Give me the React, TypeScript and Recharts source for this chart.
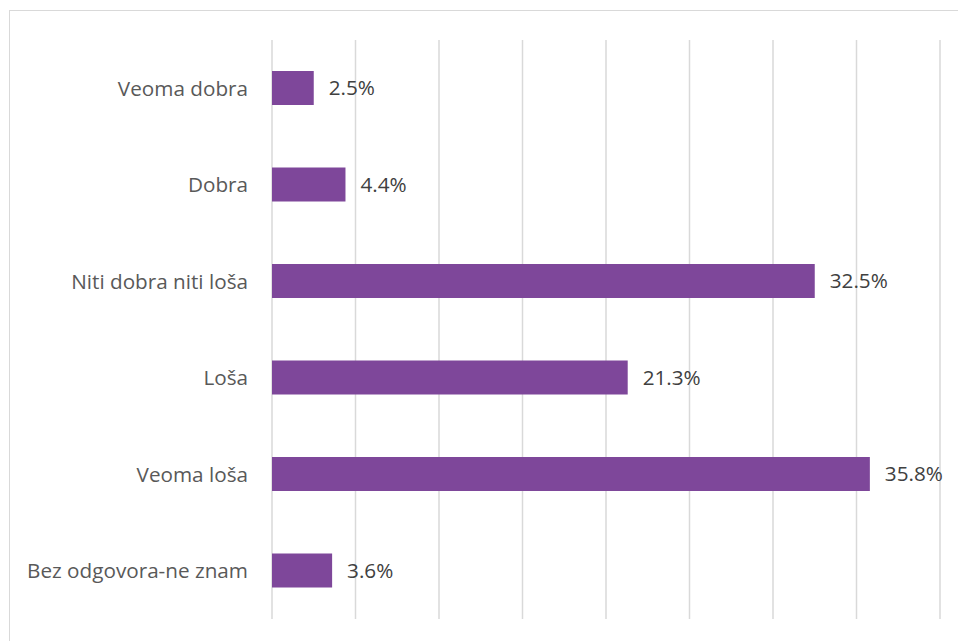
import React from 'react';
import { BarChart, Bar, XAxis, YAxis, CartesianGrid, LabelList } from 'recharts';

const categories = [
  'Veoma dobra',
  'Dobra',
  'Niti dobra niti loša',
  'Loša',
  'Veoma loša',
  'Bez odgovora-ne znam',
];
const values = [2.5, 4.4, 32.5, 21.3, 35.8, 3.6];
const xTicks = [0, 5, 10, 15, 20, 25, 30, 35, 40];

const data = categories.map((name, i) => ({ name, value: values[i] }));

const FONT = '"Open Sans", sans-serif';

export default function App() {
  return (
    <div style={{ position: 'absolute', left: 0, top: 0, width: 958, height: 641, background: '#fff', overflow: 'hidden' }}>
      <div
        style={{
          position: 'absolute',
          left: 9,
          top: 10,
          width: 960,
          height: 700,
          border: '1px solid #d9d9d9',
          boxSizing: 'border-box',
        }}
      />
      <div style={{ position: 'absolute', left: 0, top: 0 }}>
        <BarChart
          width={958}
          height={641}
          data={data}
          layout="vertical"
          margin={{ top: 40, right: 18, bottom: 22, left: 0 }}
          barSize={34}
        >
          <CartesianGrid horizontal={false} vertical={true} stroke="#d9d9d9" strokeWidth={1.5} />
          <XAxis type="number" domain={[0, 40]} ticks={xTicks} hide />
          <YAxis
            type="category"
            dataKey="name"
            width={272}
            axisLine={false}
            tickLine={false}
            tickSize={6}
            tickMargin={18}
            tick={{ fill: '#595959', fontSize: 20.7, fontFamily: FONT }}
          />
          <Bar dataKey="value" fill="#7E479A" isAnimationActive={false}>
            <LabelList
              dataKey="value"
              position="right"
              offset={15}
              formatter={(v: number) => `${v.toFixed(1)}%`}
              style={{ fill: '#404040', fontSize: 20.7, fontFamily: FONT }}
            />
          </Bar>
        </BarChart>
      </div>
    </div>
  );
}
